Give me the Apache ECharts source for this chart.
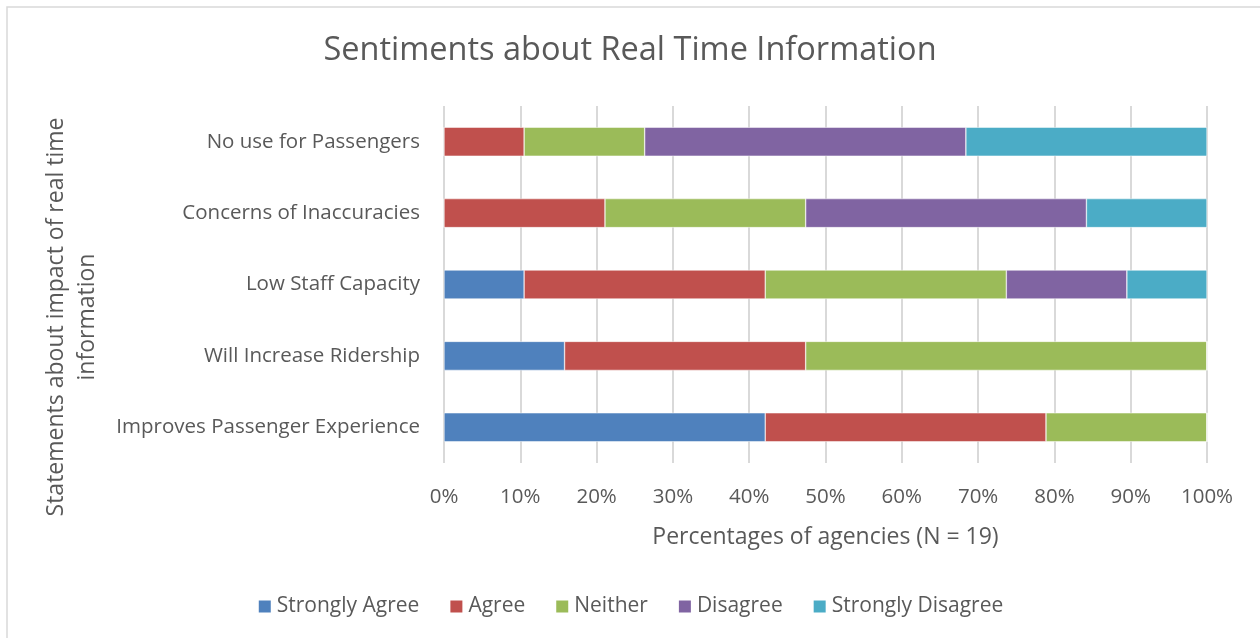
<!DOCTYPE html>
<html>
<head>
<meta charset="utf-8">
<title>Sentiments about Real Time Information</title>
<script src="https://cdn.jsdelivr.net/npm/echarts@6/dist/echarts.min.js"></script>
<style>
  html, body { margin: 0; padding: 0; background: #fff; }
  #chart { width: 1260px; height: 638px; }
</style>
</head>
<body>
<div id="chart"></div>
<script>
// statements, bottom to top (category axis starts at the bottom)
const statements = [
  'Improves Passenger Experience',
  'Will Increase Ridership',
  'Low Staff Capacity',
  'Concerns of Inaccuracies',
  'No use for Passengers'
]
const responses = ['Strongly Agree', 'Agree', 'Neither', 'Disagree', 'Strongly Disagree']
const colors = ['#4F81BD', '#C0504D', '#9BBB59', '#8064A2', '#4BACC6']

// percent of agencies (N = 19)
const stronglyAgree    = [42.1, 15.8, 10.5, 0, 0]
const agree            = [36.8, 31.6, 31.6, 21.1, 10.5]
const neither          = [21.1, 52.6, 31.6, 26.3, 15.8]
const disagree         = [0, 0, 15.8, 36.8, 42.1]
const stronglyDisagree = [0, 0, 10.5, 15.8, 31.6]

const seriesData = [stronglyAgree, agree, neither, disagree, stronglyDisagree]
const font = 'Open Sans'
const grey = '#595959'

const chart = echarts.init(document.getElementById('chart'))
chart.setOption({
  animation: false,
  color: colors,
  textStyle: {fontFamily: font},
  title: {
    text: 'Sentiments about Real Time Information',
    left: 'center',
    top: 29,
    textStyle: {color: grey, fontSize: 32.5, fontWeight: 'normal', fontFamily: font}
  },
  grid: {left: 444, right: 53, top: 106, bottom: 175},
  legend: {
    top: 591,
    left: 'center',
    itemWidth: 14,
    itemHeight: 14,
    itemGap: 29,
    icon: 'rect',
    textStyle: {color: grey, fontSize: 21, fontFamily: font}
  },
  xAxis: {
    type: 'value',
    min: 0,
    max: 100,
    interval: 10,
    name: 'Percentages of agencies (N = 19)',
    nameLocation: 'middle',
    nameGap: 63,
    nameTextStyle: {color: grey, fontSize: 23, fontFamily: font},
    axisLabel: {formatter: '{value}%', color: grey, fontSize: 20.5, margin: 24},
    axisLine: {show: false},
    axisTick: {show: false},
    splitLine: {lineStyle: {color: '#d9d9d9', width: 2}}
  },
  yAxis: {
    type: 'category',
    data: statements,
    axisLine: {show: false},
    axisTick: {show: false},
    axisLabel: {color: grey, fontSize: 20.5, margin: 24}
  },
  graphic: [
    {
      type: 'rect',
      shape: {x: 7, y: 7, width: 1400, height: 800},
      style: {fill: 'none', stroke: '#d9d9d9', lineWidth: 1.5},
      silent: true
    },
    {
      type: 'text',
      x: 72,
      y: 317,
      rotation: Math.PI / 2,
      style: {
        text: 'Statements about impact of real time\ninformation',
        fill: grey,
        font: '23px "Open Sans"',
        align: 'center',
        verticalAlign: 'middle',
        lineHeight: 31
      }
    }
  ],
  series: responses.map((name, i) => ({
    name,
    type: 'bar',
    stack: 'total',
    barWidth: 29,
    data: seriesData[i],
    itemStyle: {borderColor: '#fff', borderWidth: 0.5}
  }))
})
</script>
</body>
</html>
